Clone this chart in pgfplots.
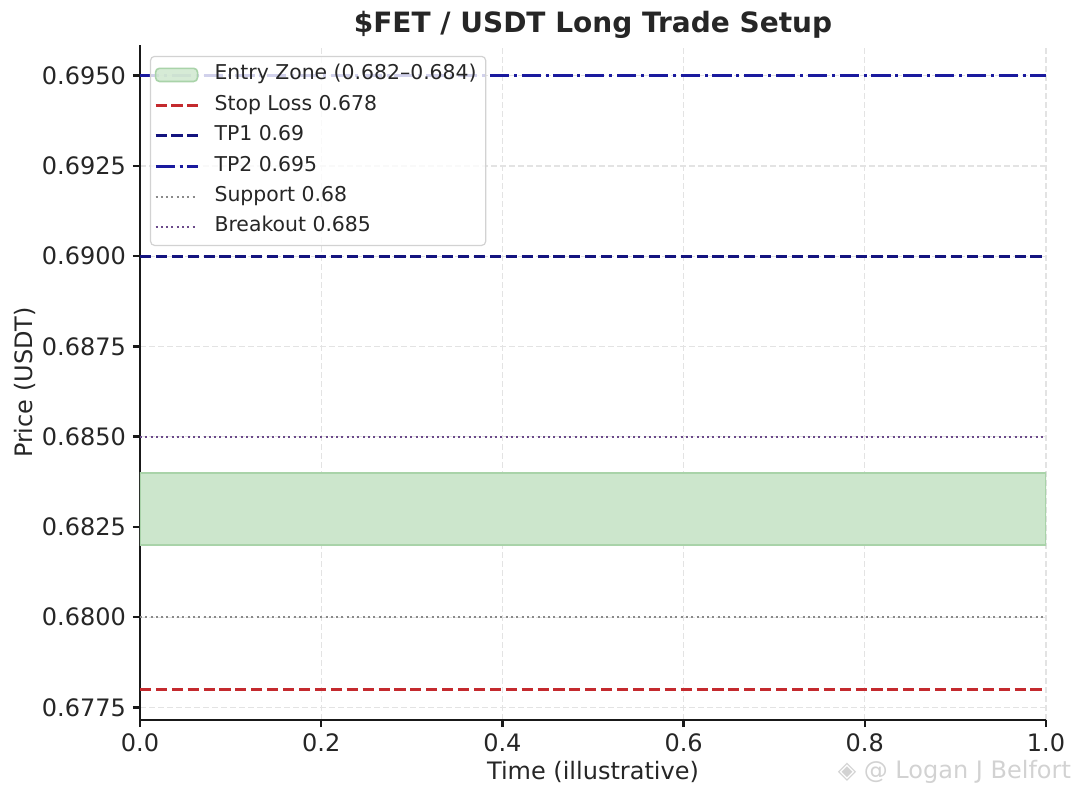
\documentclass[border=0pt]{standalone}
\usepackage{fontspec}
\setmainfont{DejaVu Sans}
\usepackage{pgfplots}
\pgfplotsset{compat=1.18}
\usetikzlibrary{calc}

\definecolor{txt}{HTML}{262626}
\definecolor{zonefill}{HTML}{CCE6CC}
\definecolor{zoneedge}{HTML}{A9D3A9}
\definecolor{slred}{HTML}{C42A2E}
\definecolor{tpone}{HTML}{14147F}
\definecolor{tptwo}{HTML}{1A1A9E}
\definecolor{suppgray}{HTML}{8A8A8A}
\definecolor{brkpurple}{HTML}{6B4A8A}

\pgfplotsset{
    lineleg/.style={legend image code/.code={\draw[##1] (0pt,0pt) -- (21pt,0pt); \path[draw=none, fill=none] (-2.5pt,0pt) -- (25pt,0pt);}},
    zoneleg/.style={legend image code/.code={\draw[##1] (0pt,-3.3pt) rectangle (21pt,3.3pt); \path[draw=none, fill=none] (-2.5pt,0pt) -- (25pt,0pt);}},
}

\begin{document}
\begin{tikzpicture}
\begin{axis}[
    scale only axis,
    width=453pt, height=337.5pt,
    xmin=0, xmax=1,
    ymin=0.67715, ymax=0.69585,
    xtick={0,0.2,0.4,0.6,0.8,1},
    ytick={0.6775,0.68,0.6825,0.685,0.6875,0.69,0.6925,0.695},
    scaled y ticks=false, scaled x ticks=false,
    /pgf/number format/assume math mode=true,
    yticklabel style={/pgf/number format/.cd, fixed, fixed zerofill, precision=4},
    xticklabel style={/pgf/number format/.cd, fixed, fixed zerofill, precision=1},
    ticklabel style={font=\fontsize{12}{14}\selectfont, text=txt},
    axis x line*=bottom, axis y line*=left,
    axis line style={-, black!90, line width=1.2pt},
    tick style={black!90, line width=1.2pt},
    tick align=outside, major tick length=3.5pt,
    grid=major,
    major grid style={gray!22, line width=0.6pt, dash pattern=on 3pt off 1.5pt},
    xlabel={Time (illustrative)},
    xlabel style={at={(axis description cs:0.5,-0.077)}, anchor=center,
        font=\fontsize{12}{14}\selectfont, text=txt},
    ylabel={Price (USDT)},
    ylabel style={at={(axis description cs:-0.127,0.5)}, anchor=center,
        font=\fontsize{12}{14}\selectfont, text=txt},
    legend cell align=left,
    lineleg,
    legend style={at={(axis description cs:0.011,0.984)}, anchor=north west,
        font=\fontsize{10.2}{12}\selectfont, text=txt,
        fill=white, fill opacity=0.8, draw opacity=1, text opacity=1,
        draw=gray!35, line width=0.6pt, rounded corners=2pt,
        inner xsep=0pt, inner ysep=4.25pt, row sep=5.2pt,
        nodes={inner ysep=0pt, inner xsep=4.5pt, text height=7.5pt, text depth=2.5pt}},
]
% entry zone
\addplot[fill=zonefill, draw=zoneedge, line width=0.8pt, zoneleg]
    coordinates {(0,0.682) (1,0.682) (1,0.684) (0,0.684)} -- cycle;
\addlegendentry{Entry Zone (0.682–0.684)}
% stop loss
\addplot[slred, line width=1.5pt, dash pattern=on 5.55pt off 2.4pt]
    coordinates {(0,0.678) (1,0.678)};
\addlegendentry{Stop Loss 0.678}
% TP1
\addplot[tpone, line width=1.5pt, dash pattern=on 5.55pt off 2.4pt]
    coordinates {(0,0.69) (1,0.69)};
\addlegendentry{TP1 0.69}
% TP2
\addplot[tptwo, line width=1.5pt, dash pattern=on 9.6pt off 2.4pt on 1.5pt off 2.4pt]
    coordinates {(0,0.695) (1,0.695)};
\addlegendentry{TP2 0.695}
% support
\addplot[suppgray, line width=1pt, dash pattern=on 1pt off 1.65pt]
    coordinates {(0,0.68) (1,0.68)};
\addlegendentry{Support 0.68}
% breakout
\addplot[brkpurple, line width=1pt, dash pattern=on 1pt off 1.65pt]
    coordinates {(0,0.685) (1,0.685)};
\addlegendentry{Breakout 0.685}
\end{axis}
% title
\node[anchor=base, text=txt, font=\bfseries\fontsize{14}{16}\selectfont]
    at ($(current axis.north)+(0,6pt)$) {\$FET / USDT Long Trade Setup};
% watermark
\node[anchor=east, text=gray!35, font=\fontsize{12}{14}\selectfont]
    at ($(current axis.south east)+(16pt,-26pt)$) {◈ @ Logan J Belfort};
\pgfresetboundingbox
\path[use as bounding box] ($(current axis.south west)+(-70pt,-39.5pt)$)
    rectangle ($(current axis.north east)+(17pt,22.5pt)$);
\end{tikzpicture}
\end{document}
